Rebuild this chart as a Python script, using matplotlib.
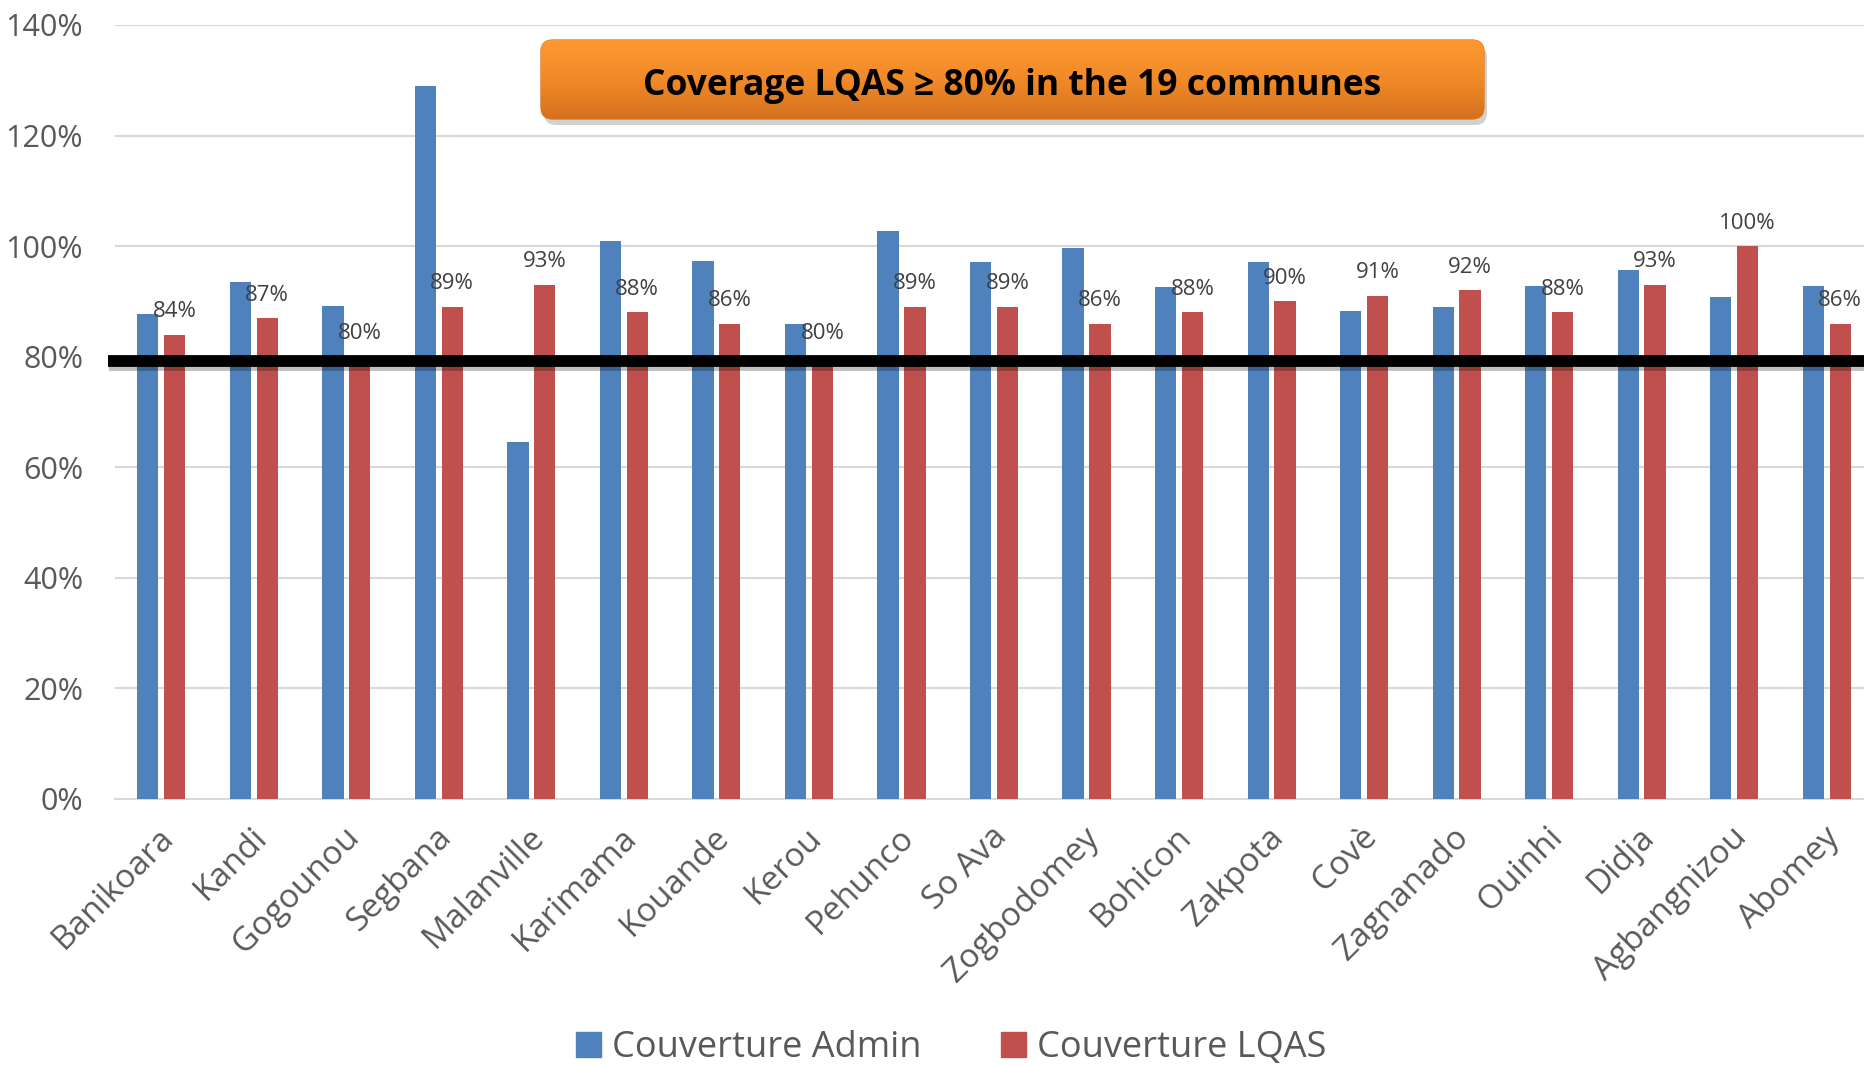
import matplotlib
matplotlib.use("Agg")
import matplotlib.pyplot as plt
import matplotlib.transforms as mtransforms
import matplotlib.patheffects as pe
from matplotlib.patches import FancyBboxPatch, Patch
from matplotlib.ticker import PercentFormatter
import numpy as np

FONT = ["Open Sans", "DejaVu Sans"]
plt.rcParams["font.family"] = FONT

# ── data ─────────────────────────────────────────────────────────────────────
communes = ["Banikoara", "Kandi", "Gogounou", "Segbana", "Malanville",
            "Karimama", "Kouande", "Kerou", "Pehunco", "So Ava", "Zogbodomey",
            "Bohicon", "Zakpota", "Covè", "Zagnanado", "Ouinhi", "Didja",
            "Agbangnizou", "Abomey"]
cov_admin = [0.878, 0.935, 0.891, 1.290, 0.645, 1.010, 0.973, 0.860, 1.027,
             0.972, 0.996, 0.926, 0.971, 0.882, 0.890, 0.928, 0.957, 0.908,
             0.928]
cov_lqas = [0.84, 0.87, 0.80, 0.89, 0.93, 0.88, 0.86, 0.80, 0.89, 0.89, 0.86,
            0.88, 0.90, 0.91, 0.92, 0.88, 0.93, 1.00, 0.86]
target = 0.792

BLUE = "#4F81BD"
RED = "#C0504D"
GREY = "#595959"

W, H = 1864, 1065
fig = plt.figure(figsize=(W / 100, H / 100), dpi=100)
ax = fig.add_axes([115 / W, 1 - 799 / H, (1873 - 115) / W, (799 - 25) / H])

x = np.arange(len(communes))
bw = 0.23
off = 0.145
ax.bar(x - off, cov_admin, bw, color=BLUE, zorder=3)
bars_l = ax.bar(x + off, cov_lqas, bw, color=RED, zorder=3)

for rect, v in zip(bars_l, cov_lqas):
    ax.annotate(f"{v:.0%}", (rect.get_x() + rect.get_width() / 2, v),
                xytext=(0, 9), textcoords="offset points", ha="center",
                va="bottom", fontsize=16, color="#404040", zorder=5)

ax.set_xlim(-0.5, len(communes) - 0.5)
ax.set_ylim(0, 1.4)
ax.set_yticks(np.arange(0, 1.41, 0.2))
ax.yaxis.set_major_formatter(PercentFormatter(1.0, decimals=0))
ax.grid(axis="y", color="#D9D9D9", lw=1.5, zorder=0)
ax.set_axisbelow(True)
for s in ["top", "right", "left"]:
    ax.spines[s].set_visible(False)
ax.spines["bottom"].set_color("#D9D9D9")
ax.spines["bottom"].set_linewidth(1.5)
ax.tick_params(axis="y", length=0, labelsize=22, labelcolor=GREY, pad=23)
ax.tick_params(axis="x", length=0, labelsize=24, labelcolor=GREY, pad=24)
ax.set_xticks(x)
ax.set_xticklabels(communes, rotation=45, ha="right", va="center",
                   rotation_mode="anchor")
shift = mtransforms.ScaledTranslation(0.08, 0, fig.dpi_scale_trans)
for lab in ax.get_xticklabels():
    lab.set_transform(lab.get_transform() + shift)

# 80 % target line
ax.plot([-0.58, len(communes) + 0.2], [target, target], color="black", lw=8.5,
        zorder=4, clip_on=False, solid_capstyle="butt",
        path_effects=[pe.SimpleLineShadow(offset=(1, -3), alpha=0.25),
                      pe.Normal()])
ax.set_xlim(-0.5, len(communes) - 0.5)

# legend
handles = [Patch(color=BLUE, label="Couverture Admin"),
           Patch(color=RED, label="Couverture LQAS")]
fig.legend(handles=handles, loc="center", bbox_to_anchor=(951 / W, 1 - 1048 / H),
           ncol=2, frameon=False, fontsize=26, labelcolor=GREY,
           handlelength=0.7, handleheight=0.7, handletextpad=0.3,
           columnspacing=2.2)

# title banner
ov = fig.add_axes([0, 0, 1, 1], zorder=10)
ov.set_xlim(0, W)
ov.set_ylim(H, 0)
ov.axis("off")
bx, by, bwid, bht = 541, 40, 943, 79
shadow = FancyBboxPatch((bx + 3, by + 6), bwid, bht,
                        boxstyle="round,pad=0,rounding_size=12",
                        facecolor="black", edgecolor="none", alpha=0.18)
ov.add_patch(shadow)
banner = FancyBboxPatch((bx, by), bwid, bht,
                        boxstyle="round,pad=0,rounding_size=12",
                        facecolor="none", edgecolor="#E07A20", lw=1)
ov.add_patch(banner)
grad = np.linspace(0, 1, 100).reshape(-1, 1)
cmap = matplotlib.colors.LinearSegmentedColormap.from_list(
    "org", ["#FF9830", "#F08A28", "#D4701F"])
img = ov.imshow(grad, cmap=cmap, aspect="auto",
                extent=(bx, bx + bwid, by + bht, by), zorder=1)
img.set_clip_path(banner)
ov.set_xlim(0, W)
ov.set_ylim(H, 0)
ov.text(bx + bwid / 2, by + bht / 2 + 7, "Coverage LQAS ≥ 80% in the 19 communes",
        ha="center", va="center", fontsize=25.5, fontweight="bold",
        color="black", zorder=3)

fig.savefig("out.png", dpi=100)
